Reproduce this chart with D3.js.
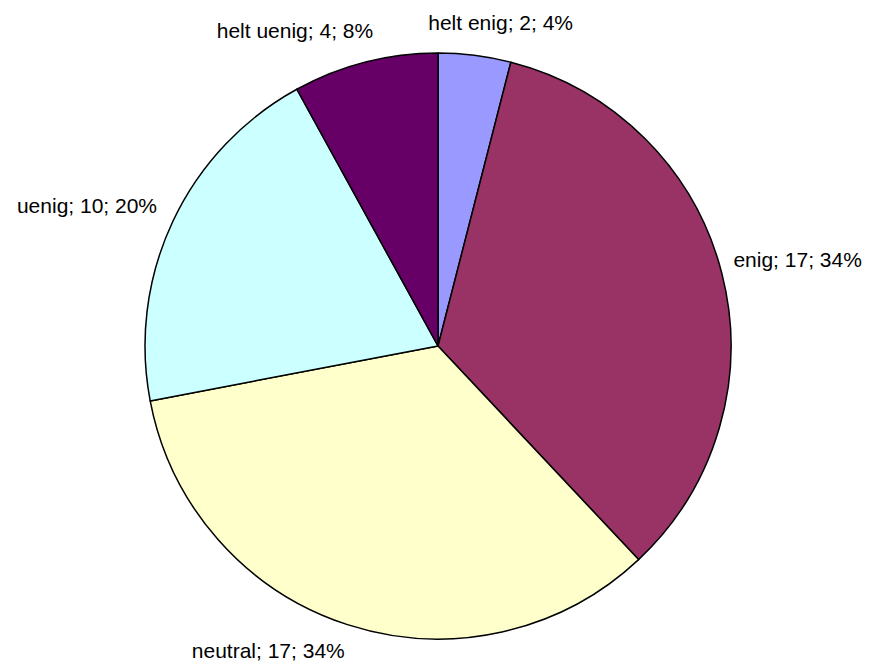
<!DOCTYPE html>
<html><head><meta charset="utf-8">
<script src="https://cdn.jsdelivr.net/npm/d3@7"></script>
<style>html,body{margin:0;padding:0;background:#fff;}svg{display:block;}</style>
</head><body>
<script>
const categories = ["helt enig", "enig", "neutral", "uenig", "helt uenig"];
const values = [2, 17, 17, 10, 4];
const percents = ["4%", "34%", "34%", "20%", "8%"];
const colors = ["#9999FF", "#993366", "#FFFFCC", "#CCFFFF", "#660066"];
// label nudges (layout only)
const labelNudge = [[-48, -19], [0, -9], [1, 16], [-5, -9], [11, -19]];

const W = 871, H = 665, cx = 438, cy = 346, r = 293, lr = 305;
const svg = d3.select("body").append("svg").attr("width", W).attr("height", H);
const g = svg.append("g").attr("transform", `translate(${cx},${cy})`);
const data = categories.map((c, i) => ({cat: c, v: values[i], p: percents[i], col: colors[i], i}));
const pie = d3.pie().value(d => d.v).sort(null);
const arc = d3.arc().innerRadius(0).outerRadius(r);
const arcs = pie(data);
g.selectAll("path").data(arcs).join("path")
  .attr("d", arc).attr("fill", d => d.data.col)
  .attr("stroke", "#000").attr("stroke-width", 1.5).attr("stroke-linejoin", "round");
g.selectAll("text").data(arcs).join("text")
  .each(function(d) {
    const a = (d.startAngle + d.endAngle) / 2;
    const s = Math.sin(a), c = Math.cos(a);
    const n = labelNudge[d.data.i];
    d3.select(this)
      .attr("x", lr * s + n[0])
      .attr("y", -lr * c + 6 + n[1])
      .attr("text-anchor", s >= 0 ? "start" : "end");
  })
  .attr("font-family", "Liberation Sans, Arial, sans-serif")
  .attr("font-size", 21).attr("fill", "#000")
  .text(d => `${d.data.cat}; ${d.data.v}; ${d.data.p}`);
</script>
</body></html>
